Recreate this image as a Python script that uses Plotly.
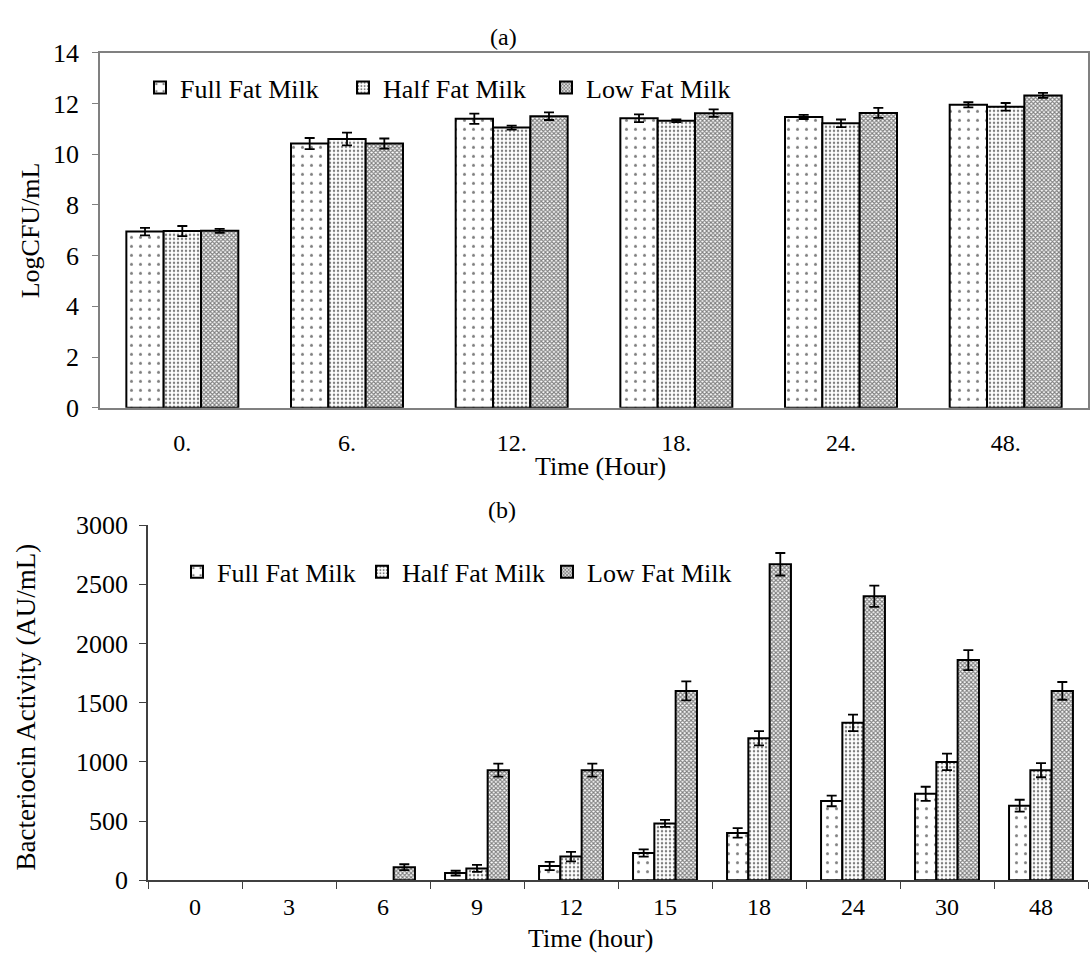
import plotly.graph_objects as go

W, H = 1090, 967

# ---- Data (a) ----
cats_a = ["0.", "6.", "12.", "18.", "24.", "48."]
full_a = [6.95, 10.42, 11.40, 11.42, 11.47, 11.95]
half_a = [6.97, 10.60, 11.05, 11.32, 11.22, 11.87]
low_a = [6.98, 10.42, 11.50, 11.62, 11.63, 12.32]
full_a_err = [0.15, 0.22, 0.20, 0.15, 0.08, 0.10]
half_a_err = [0.20, 0.25, 0.08, 0.05, 0.15, 0.15]
low_a_err = [0.08, 0.20, 0.15, 0.15, 0.20, 0.10]

# ---- Data (b) ----
cats_b = ["0", "3", "6", "9", "12", "15", "18", "24", "30", "48"]
full_b = [0, 0, 0, 60, 120, 230, 400, 670, 730, 630]
half_b = [0, 0, 0, 100, 200, 480, 1200, 1330, 1000, 930]
low_b = [0, 0, 110, 930, 930, 1600, 2670, 2400, 1860, 1600]
full_b_err = [0, 0, 0, 20, 35, 30, 40, 45, 60, 50]
half_b_err = [0, 0, 0, 30, 40, 30, 60, 70, 70, 60]
low_b_err = [0, 0, 25, 55, 55, 80, 95, 90, 85, 75]

names = ["Full Fat Milk", "Half Fat Milk", "Low Fat Milk"]

FONT = "Liberation Serif"
patterns = [
    dict(shape=".", fgcolor="black", bgcolor="white", size=9, solidity=0.09),
    dict(shape=".", fgcolor="black", bgcolor="white", size=4, solidity=0.3),
    dict(shape="x", fgcolor="black", bgcolor="white", size=3, solidity=0.6),
]

fig = go.Figure()


def add_bars(cats, vals, errs, xa, ya, legend):
    for i, (v, e) in enumerate(zip(vals, errs)):
        # a zero reading draws no visible bar in the original
        yv = [val if val > 0 else None for val in v]
        ev = [err if val > 0 else None for val, err in zip(v, e)]
        fig.add_trace(go.Bar(
            x=cats, y=yv, name=names[i], xaxis=xa, yaxis=ya, legend=legend,
            marker=dict(color="white", pattern=patterns[i],
                        line=dict(color="black", width=2)),
            error_y=dict(type="data", array=ev, color="black",
                         thickness=1.8, width=5),
        ))


add_bars(cats_a, [full_a, half_a, low_a], [full_a_err, half_a_err, low_a_err],
         "x", "y", "legend")
add_bars(cats_b, [full_b, half_b, low_b], [full_b_err, half_b_err, low_b_err],
         "x2", "y2", "legend2")


def px_x(p):
    return p / W


def px_y(p):
    return 1 - p / H


XT = dict(family=FONT, size=24, color="black")
YT = dict(family=FONT, size=26, color="black")

fig.update_layout(
    width=W, height=H,
    margin=dict(l=0, r=0, t=0, b=0),
    paper_bgcolor="white", plot_bgcolor="white",
    font=dict(family=FONT, size=24, color="black"),
    barmode="group", bargap=0.32, bargroupgap=0,
    xaxis=dict(domain=[px_x(100), px_x(1088)], anchor="y", type="category",
               showline=True, mirror=True, ticks="", linecolor="#808080",
               linewidth=1.5, showgrid=False, zeroline=False, tickfont=XT,
               ticklabelstandoff=13),
    yaxis=dict(domain=[px_y(406), px_y(40)], anchor="x", range=[0, 14],
               dtick=2, showline=True, mirror=True, ticks="outside",
               ticklen=6, tickcolor="#808080", linecolor="#808080",
               linewidth=1.5, showgrid=False, zeroline=False, tickfont=YT,
               ticklabelstandoff=8),
    xaxis2=dict(domain=[px_x(148), px_x(1088)], anchor="y2", type="category",
                showline=True, ticks="outside", tickson="boundaries",
                ticklen=7, tickcolor="#404040", linecolor="#404040",
                linewidth=1.5, showgrid=False, zeroline=False, tickfont=XT,
                ticklabelstandoff=4),
    yaxis2=dict(domain=[px_y(893), px_y(527)], anchor="x2", range=[0, 3000],
                dtick=500, showline=True, ticks="outside", ticklen=7,
                tickcolor="#404040", linecolor="#404040", linewidth=1.5,
                showgrid=False, zeroline=False, tickfont=YT,
                ticklabelstandoff=6),
    legend=dict(orientation="h", x=px_x(140), y=px_y(76), xanchor="left",
                yanchor="middle", bgcolor="rgba(0,0,0,0)",
                font=dict(family=FONT, size=26, color="black"),
                itemwidth=30, entrywidthmode="pixels", entrywidth=158),
    legend2=dict(orientation="h", x=px_x(177), y=px_y(575), xanchor="left",
                 yanchor="middle", bgcolor="rgba(0,0,0,0)",
                 font=dict(family=FONT, size=26, color="black"),
                 itemwidth=30, entrywidthmode="pixels", entrywidth=140),
    showlegend=True,
)

ann = [
    dict(text="(a)", x=px_x(503), y=px_y(24), size=24),
    dict(text="(b)", x=px_x(502), y=px_y(511), size=24),
    dict(text="Time (Hour)", x=px_x(600), y=px_y(466), size=26),
    dict(text="Time (hour)", x=px_x(590), y=px_y(953), size=26),
    dict(text="LogCFU/mL", x=px_x(30), y=px_y(223), size=26, textangle=-90),
    dict(text="Bacteriocin Activity (AU/mL)", x=px_x(26), y=px_y(715), size=27,
         textangle=-90),
]
for a in ann:
    size = a.pop("size")
    fig.add_annotation(xref="paper", yref="paper", showarrow=False,
                       xanchor="center", yanchor="middle",
                       font=dict(family=FONT, size=size, color="black"), **a)

fig.write_html("out.html")
